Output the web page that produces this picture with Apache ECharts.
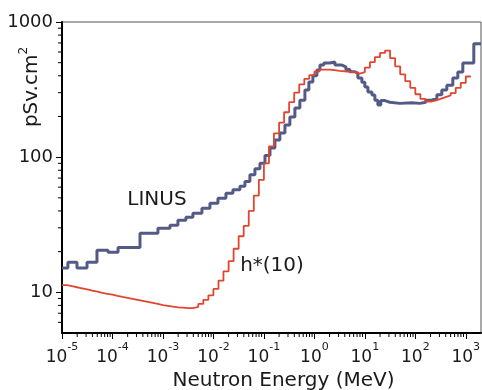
<!DOCTYPE html>
<html>
<head>
<meta charset="utf-8">
<script src="https://cdn.jsdelivr.net/npm/echarts@6/dist/echarts.min.js"></script>
<style>
html,body{margin:0;padding:0;background:#fff;}
#chart{width:482px;height:390px;}
</style>
</head>
<body>
<div id="chart"></div>
<script>
// LINUS response (bin left edges in MeV, values in pSv.cm2)
const linusEnergy = [1.0e-5,1.31e-5,1.98e-5,3.13e-5,4.93e-5,8.15e-5,1.29e-4,3.51e-4,7.96e-4,1.38e-3,1.98e-3,2.85e-3,3.92e-3,5.92e-3,8.53e-3,
  1.23e-2,1.77e-2,2.43e-2,3.35e-2,4.21e-2,5.28e-2,6.64e-2,8.34e-2,0.105,0.132,0.165,0.207,0.261,0.327,0.411,0.516,0.649,0.778,0.933,
  1.12,1.29,1.54,2.03,2.55,3.51,4.21,5.05,6.34,7.26,8.73,10.0,11.5,13.8,15.8,18.1,20.7,24.9,31.3,49.3,85.3,123,161,212,267,335,421,553,695,873,1440,2000];
const linusValue = [15.1,16.7,15.1,16.7,20.5,19.8,21.5,27.4,29.8,31.4,34.1,36,38.5,41.9,45.6,
  49.7,54,57.5,61,66,74,82,90,103,117,134,151,173,198,231,264,314,360,400,
  441,480,497,506,480,465,445,428,419,385,359,330,303,288,264,243,262,255,250,253,250,255,264,273,290,314,341,385,426,497,690,690];

// h*(10) conversion coefficients (bin left edges in MeV)
const hEnergy = [1e-5,1.26e-5,1.58e-5,2e-5,2.51e-5,3.16e-5,3.98e-5,5.01e-5,6.31e-5,7.94e-5,
  1e-4,1.26e-4,1.58e-4,2e-4,2.51e-4,3.16e-4,3.98e-4,5.01e-4,6.31e-4,7.94e-4,
  1e-3,1.26e-3,1.58e-3,2e-3,2.51e-3,3.16e-3,3.98e-3,5.01e-3,6.31e-3,7.94e-3,
  1e-2,1.26e-2,1.58e-2,2e-2,2.51e-2,3.16e-2,3.98e-2,5.01e-2,6.31e-2,7.94e-2,
  0.1,0.126,0.158,0.2,0.251,0.316,0.398,0.501,0.631,0.794,
  1,1.26,1.58,2,2.51,3.16,3.98,5.01,6.31,7.94,
  10,12.6,15.8,20,25.1,31.6,39.8,50.1,63.1,79.4,
  100,126,158,200,251,316,398,501,631,794,
  1000,1260];
const hValue = [11.3,11.1,10.9,10.7,10.5,10.3,10.1,9.9,9.75,9.6,
  9.4,9.25,9.1,8.95,8.8,8.65,8.5,8.35,8.2,8.05,
  7.95,7.85,7.75,7.7,7.65,7.65,7.8,8.2,8.8,9.5,
  10.6,12.2,14.3,17,21,26,31,40,52,68,
  90,120,150,180,215,255,300,345,380,405,
  430,445,445,440,435,432,428,425,415,425,
  460,505,550,590,615,540,470,410,365,325,
  292,270,258,262,270,278,286,298,325,355,
  395,395];

const xTickExponents = ['-5','-4','-3','-2','-1','0','1','2','3'];
const yTickLabels = ['10','100','1000'];
const seriesNames = ['LINUS','h*(10)'];

// minor tick positions (2..9 x decade)
const xMinor = [], yMinor = [];
for (let e = -5; e <= 3; e++) for (let k = 2; k <= 9; k++) { const v = k * Math.pow(10, e); if (v < 2000) xMinor.push([v, 5]); }
for (let e = 0; e <= 2; e++) for (let k = 2; k <= 9; k++) { const v = k * Math.pow(10, e); if (v > 5 && v < 1000) yMinor.push([1e-5, v]); }

const FONT = 'DejaVu Sans';
const chart = echarts.init(document.getElementById('chart'), null, {renderer: 'canvas'});

function expOf(v){ return Math.round(Math.log10(v)); }

chart.setOption({
  animation: false,
  backgroundColor: '#fff',
  grid: {left: 62, top: 22, right: 1, bottom: 57, containLabel: false, outerBoundsMode: 'none',
         show: true, borderColor: '#555', borderWidth: 1},
  xAxis: {
    type: 'log', logBase: 10, min: 1e-5, max: 2000,
    name: 'Neutron Energy (MeV)', nameLocation: 'middle', nameGap: 36,
    nameTextStyle: {fontFamily: FONT, fontSize: 20, color: '#1a1a1a', padding: [0, 0, 0, 24]},
    axisLine: {show: true, onZero: false, lineStyle: {color: '#000', width: 2}},
    axisTick: {show: true, length: 6, lineStyle: {color: '#000', width: 1}},
    splitLine: {show: false},
    axisLabel: {
      showMaxLabel: false, margin: 9, color: '#1a1a1a',
      formatter: function(v){
        const e = String(expOf(v));
        if (xTickExponents.indexOf(e) < 0) return '';
        return '{b|10}{s|' + e + '}';
      },
      rich: {
        b: {fontFamily: FONT, fontSize: 17, lineHeight: 24, verticalAlign: 'bottom', color: '#1a1a1a'},
        s: {fontFamily: FONT, fontSize: 11, lineHeight: 14, verticalAlign: 'top', color: '#1a1a1a'}
      }
    }
  },
  yAxis: {
    type: 'log', logBase: 10, min: 5, max: 1000,
    axisLine: {show: true, onZero: false, lineStyle: {color: '#000', width: 2}},
    axisTick: {show: true, length: 6, lineStyle: {color: '#000', width: 1}},
    splitLine: {show: false},
    axisLabel: {
      showMinLabel: false, margin: 9, fontFamily: FONT, fontSize: 18, color: '#1a1a1a',
      formatter: function(v){
        const s = String(Math.round(v));
        return yTickLabels.indexOf(s) >= 0 ? s : '';
      }
    }
  },
  graphic: [
    {type: 'text', x: 30, y: 87, rotation: Math.PI / 2,
      style: {text: '{a|pSv.cm}{s|2}', align: 'center', verticalAlign: 'middle',
        rich: {a: {fontFamily: FONT, fontSize: 20, lineHeight: 24, verticalAlign: 'bottom', fill: '#1a1a1a'},
               s: {fontFamily: FONT, fontSize: 12, lineHeight: 16, verticalAlign: 'top', fill: '#1a1a1a'}}}},
    {type: 'text', x: 157, y: 200,
      style: {text: seriesNames[0], fontFamily: FONT, fontSize: 20, fill: '#1a1a1a', align: 'center', verticalAlign: 'middle'}},
    {type: 'text', x: 272, y: 266,
      style: {text: seriesNames[1], fontFamily: FONT, fontSize: 20, fill: '#1a1a1a', align: 'center', verticalAlign: 'middle'}}
  ],
  series: [
    {
      name: seriesNames[0], type: 'line', step: 'end', showSymbol: false, symbol: 'none',
      data: linusEnergy.map((e, i) => [e, linusValue[i]]),
      lineStyle: {color: '#545a86', width: 3}, itemStyle: {color: '#545a86'}, z: 2
    },
    {
      name: seriesNames[1], type: 'line', step: 'end', showSymbol: false, symbol: 'none',
      data: hEnergy.map((e, i) => [e, hValue[i]]),
      lineStyle: {color: '#e0462f', width: 1.8}, itemStyle: {color: '#e0462f'}, z: 3
    },
    {
      type: 'custom', silent: true, clip: false, data: xMinor,
      renderItem: function(params, api){
        const p = api.coord([api.value(0), api.value(1)]);
        return {type: 'line', shape: {x1: p[0], y1: p[1], x2: p[0], y2: p[1] + 4}, style: {stroke: '#000', lineWidth: 1}};
      }, z: 4
    },
    {
      type: 'custom', silent: true, clip: false, data: yMinor,
      renderItem: function(params, api){
        const p = api.coord([api.value(0), api.value(1)]);
        return {type: 'line', shape: {x1: p[0], y1: p[1], x2: p[0] - 4, y2: p[1]}, style: {stroke: '#000', lineWidth: 1}};
      }, z: 4
    }
  ]
});
</script>
</body>
</html>
